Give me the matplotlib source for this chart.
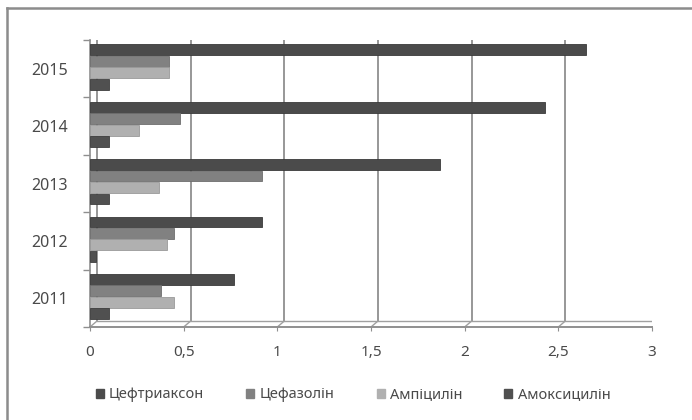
import matplotlib
matplotlib.use("Agg")
import matplotlib.pyplot as plt
import matplotlib.transforms as mtransforms
from matplotlib.patches import Patch
from matplotlib.lines import Line2D

plt.rcParams['font.family'] = ['Noto Sans', 'DejaVu Sans']

years = ["2011", "2012", "2013", "2014", "2015"]
series_names = ["Цефтриаксон", "Цефазолін", "Ампіцилін", "Амоксицилін"]
ceftriaxone = [0.77, 0.92, 1.87, 2.43, 2.65]
cefazolin = [0.38, 0.45, 0.92, 0.48, 0.42]
ampicillin = [0.45, 0.41, 0.37, 0.26, 0.42]
amoxicillin = [0.10, 0.03, 0.10, 0.10, 0.10]
x_ticks = [0, 0.5, 1, 1.5, 2, 2.5, 3]
x_tick_labels = ["0", "0,5", "1", "1,5", "2", "2,5", "3"]

series_values = [ceftriaxone, cefazolin, ampicillin, amoxicillin]
colors = ["#4b4b4b", "#818181", "#b0b0b0", "#505050"]
edge_colors = ["#3a3a3a", "#6e6e6e", "#9a9a9a", "#3e3e3e"]
text_color = "#4a4a4a"

W, H = 692, 420
fig = plt.figure(figsize=(W / 100, H / 100), dpi=100)
fig.patch.set_facecolor("white")

# frame of the chart area (top and left edges)
fig.add_artist(Line2D([7 / W, 7 / W], [0, 1 - 8 / H], transform=fig.transFigure,
                      color="#8c8c8c", lw=1.8))
fig.add_artist(Line2D([7 / W, 1], [1 - 8 / H, 1 - 8 / H], transform=fig.transFigure,
                      color="#8c8c8c", lw=1.8))

left_px, right_px, top_px, bottom_px = 90, 652, 40, 327
ax = fig.add_axes([left_px / W, 1 - bottom_px / H,
                   (right_px - left_px) / W, (bottom_px - top_px) / H])
ax.set_xlim(0, 3)
ax.set_ylim(-0.5, len(years) - 0.5)
ax.set_facecolor("none")
for s in ax.spines.values():
    s.set_visible(False)

# back-wall gridlines, shifted right/up to suggest depth
depth = mtransforms.ScaledTranslation(7 / 100, 6 / 100, fig.dpi_scale_trans)
for xv in x_ticks:
    ax.plot([xv, xv], [-0.5, len(years) - 0.5 + 0.12], color="#8f8f8f", lw=1.3,
            transform=ax.transData + depth, zorder=1, solid_capstyle="butt")
    # short floor connector from the wall to the front axis
    ax.plot([xv, xv + 7 / 187.3], [-0.5, -0.5 + 6 / 57.4], color="#a0a0a0", lw=1.0,
            zorder=1)
# floor back edge and front axis line
ax.plot([0, 3], [-0.5, -0.5], color="#8f8f8f", lw=1.4, zorder=2, clip_on=False)
ax.plot([0, 3], [-0.5, -0.5], color="#a0a0a0", lw=1.0, zorder=1,
        transform=ax.transData + depth)
# left wall
ax.plot([0, 0], [-0.5, len(years) - 0.5], color="#8f8f8f", lw=1.2, zorder=2,
        clip_on=False)

bar_h = 0.19
ypos = list(range(len(years)))
for i, (vals, c, ec) in enumerate(zip(series_values, colors, edge_colors)):
    off = (1.5 - i) * 0.2 + 0.03
    ax.barh([y + off for y in ypos], vals, height=bar_h, color=c,
            edgecolor=ec, linewidth=0.6, zorder=3)

# category boundary ticks and centred year labels
ax.set_yticks([y - 0.5 for y in range(len(years) + 1)])
ax.set_yticklabels([])
ax.set_yticks(ypos, minor=True)
ax.set_yticklabels(years, minor=True, fontsize=11.5, color=text_color)
ax.tick_params(axis="y", which="major", length=5, color="#8f8f8f", width=1.0)
ax.tick_params(axis="y", which="minor", length=0, pad=16)

ax.set_xticks(x_ticks)
ax.set_xticklabels(x_tick_labels, fontsize=11, color=text_color)
ax.tick_params(axis="x", length=3, color="#8f8f8f", pad=10)

handles = [Patch(facecolor=c, edgecolor=c) for c in colors]
fig.legend(handles, series_names, loc="center", ncol=4,
           bbox_to_anchor=(0.51, 1 - 395 / H), frameon=False,
           fontsize=10.5, handlelength=0.55, handleheight=0.55, handletextpad=0.35,
           columnspacing=2.9, labelcolor=text_color)

fig.savefig("out.png", dpi=100, facecolor="white")
